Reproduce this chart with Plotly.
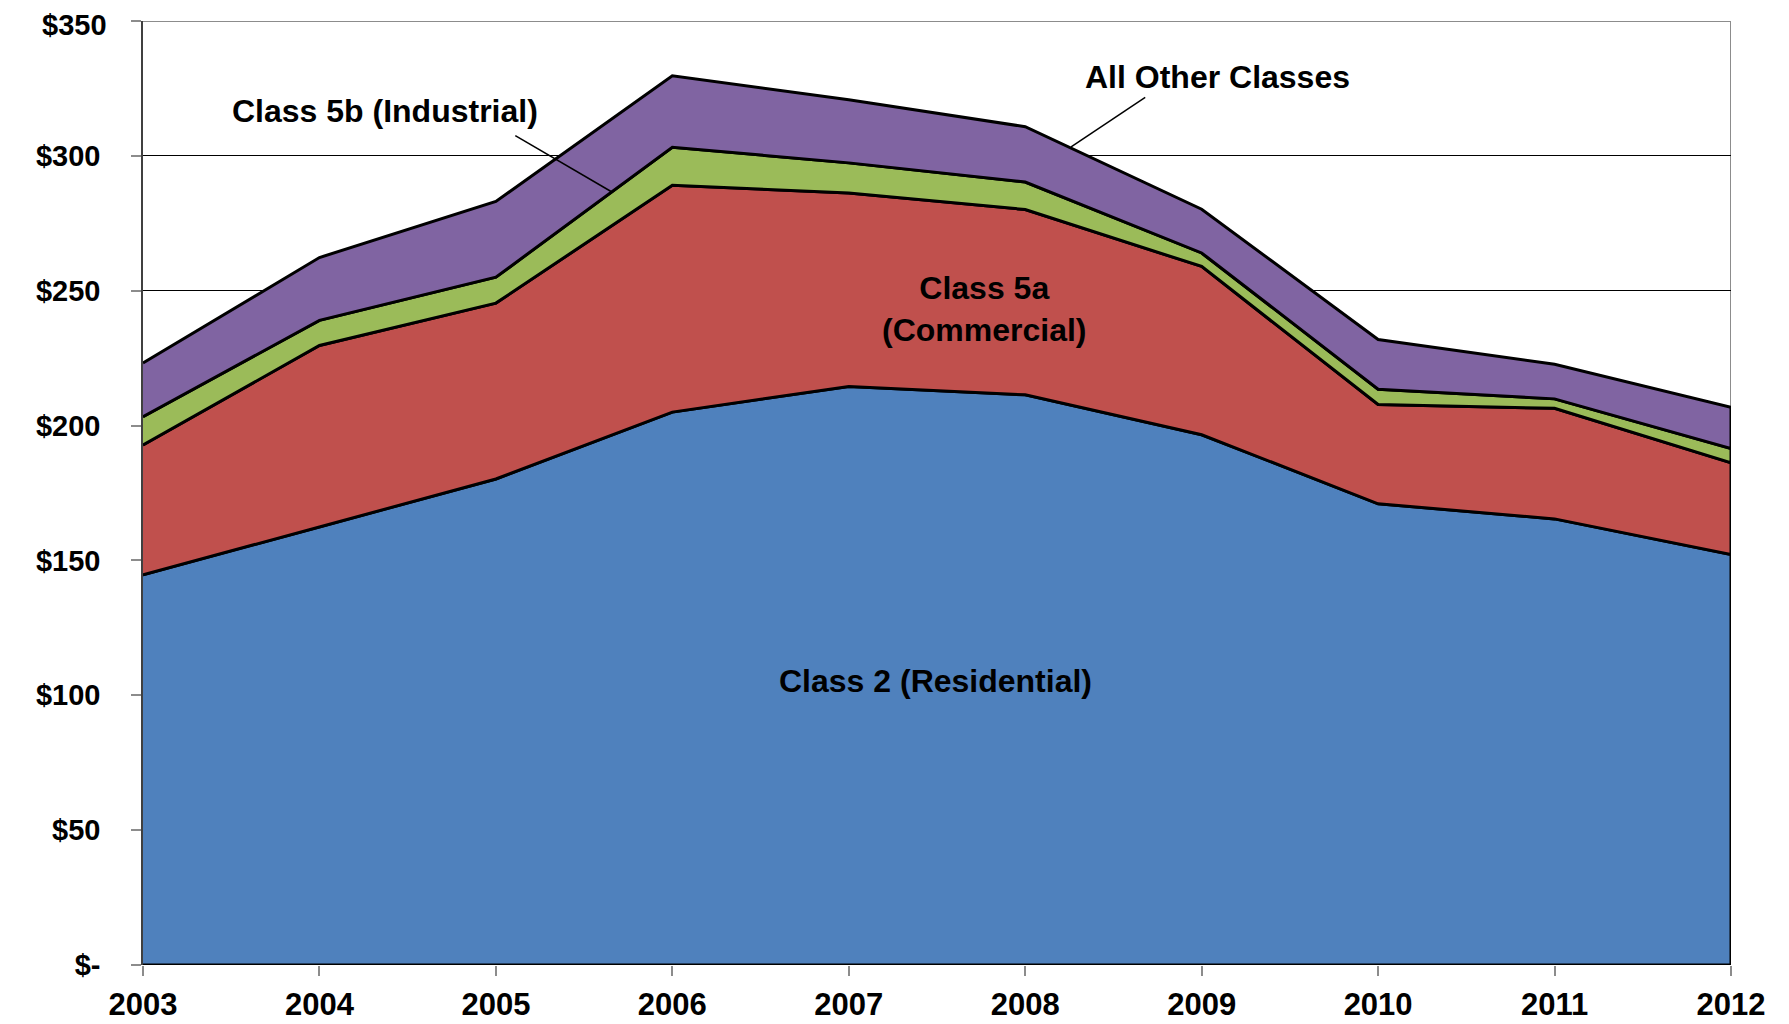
import numpy as np
import plotly.graph_objects as go

years = [2003, 2004, 2005, 2006, 2007, 2008, 2009, 2010, 2011, 2012]
residential = [144.7, 162.4, 180.2, 205.0, 214.5, 211.4, 196.6, 171.0, 165.4, 152.2]
commercial = [48.1, 67.3, 65.2, 84.1, 71.7, 68.7, 62.4, 36.8, 41.0, 34.0]
industrial = [10.5, 9.3, 9.6, 14.1, 11.2, 10.2, 5.0, 5.7, 3.5, 5.3]
other = [19.9, 23.3, 28.1, 26.5, 23.4, 20.5, 16.2, 18.4, 12.8, 15.3]

series_names = ["Class 2 (Residential)", "Class 5a (Commercial)", "Class 5b (Industrial)", "All Other Classes"]
series_colors = ["#4F81BD", "#C0504D", "#9BBB59", "#8064A2"]

ytick_vals = [0, 50, 100, 150, 200, 250, 300, 350]
ytick_text = ["$-", "$50", "$100", "$150", "$200", "$250", "$300", "$350"]

FONT = "Liberation Sans, Arial, sans-serif"
TICK_FONT = dict(family=FONT, size=29, color="black", weight="bold")

fig = go.Figure()
bottom = np.zeros(len(years))
for name, vals, col in zip(series_names, [residential, commercial, industrial, other], series_colors):
    top = bottom + np.array(vals)
    xs = list(years) + list(years[::-1])
    ys = list(top) + list(bottom[::-1])
    fig.add_trace(go.Scatter(
        x=xs, y=ys, fill="toself", fillcolor=col, mode="lines",
        line=dict(color="black", width=3), name=name, hoverinfo="skip",
        showlegend=False))
    bottom = top

# plot frame (top and right, gray)
fig.add_shape(type="line", x0=2003, x1=2012, y0=350, y1=350, xref="x", yref="y",
              line=dict(color="#8c8c8c", width=2), layer="below")
fig.add_shape(type="line", x0=2012, x1=2012, y0=0, y1=350, xref="x", yref="y",
              line=dict(color="#8c8c8c", width=2), layer="below")
# outer image border at right
fig.add_shape(type="line", x0=1.0353, x1=1.0353, y0=-0.07, y1=1.03, xref="paper", yref="paper",
              line=dict(color="black", width=1.5))

# leader lines
fig.add_shape(type="line", x0=2005.11, y0=307.5, x1=2005.66, y1=286.5, xref="x", yref="y",
              line=dict(color="black", width=1.5))
fig.add_shape(type="line", x0=2008.68, y0=321.7, x1=2008.26, y1=303.3, xref="x", yref="y",
              line=dict(color="black", width=1.5))

ann_font = dict(family=FONT, size=32, color="black", weight="bold")
fig.add_annotation(x=2004.37, y=316.5, text="Class 5b (Industrial)", showarrow=False, font=ann_font)
fig.add_annotation(x=2009.09, y=329.4, text="All Other Classes", showarrow=False, font=ann_font)
fig.add_annotation(x=2007.77, y=243.3, text="Class 5a<br>(Commercial)", showarrow=False, font=ann_font)
fig.add_annotation(x=2007.49, y=105.4, text="Class 2 (Residential)", showarrow=False, font=ann_font)
fig.add_annotation(x=2002.33, y=178, text="Billions", showarrow=False, textangle=-90,
                   font=dict(family=FONT, size=28, color="black", weight="bold"))

# top tick label placed inside the figure so it is not clipped at the page edge
top_label_idx = len(ytick_vals) - 1
fig.add_annotation(xref="paper", yref="paper", x=-0.022, y=1 + 13 / 944,
                   xanchor="right", yanchor="top", text=ytick_text[top_label_idx],
                   showarrow=False, font=TICK_FONT, borderpad=0)
axis_text = list(ytick_text)
axis_text[top_label_idx] = ""

fig.update_layout(
    width=1781, height=1016,
    margin=dict(l=135, r=58, t=13, b=59, pad=0),
    plot_bgcolor="white", paper_bgcolor="white",
    font=dict(family=FONT, color="black"),
    showlegend=False,
)
fig.update_xaxes(
    range=[2003, 2012], tickvals=years, ticktext=[str(y) for y in years],
    ticks="outside", ticklen=10, tickcolor="#8c8c8c", tickwidth=1.5,
    showgrid=False, zeroline=False, showline=False, automargin=False,
    tickfont=dict(family=FONT, size=31, color="black", weight="bold"),
    ticklabelstandoff=2, ticklabeloverflow="allow",
)
fig.update_yaxes(
    range=[0, 350], tickvals=ytick_vals, ticktext=axis_text,
    ticks="outside", ticklen=10, tickcolor="#8c8c8c", tickwidth=1.5,
    showgrid=True, gridcolor="black", gridwidth=1, zeroline=False,
    showline=True, linecolor="#404040", linewidth=1.5, automargin=False,
    tickfont=TICK_FONT,
    ticklabelstandoff=25, ticklabeloverflow="allow",
)

fig.write_html("out.html")
